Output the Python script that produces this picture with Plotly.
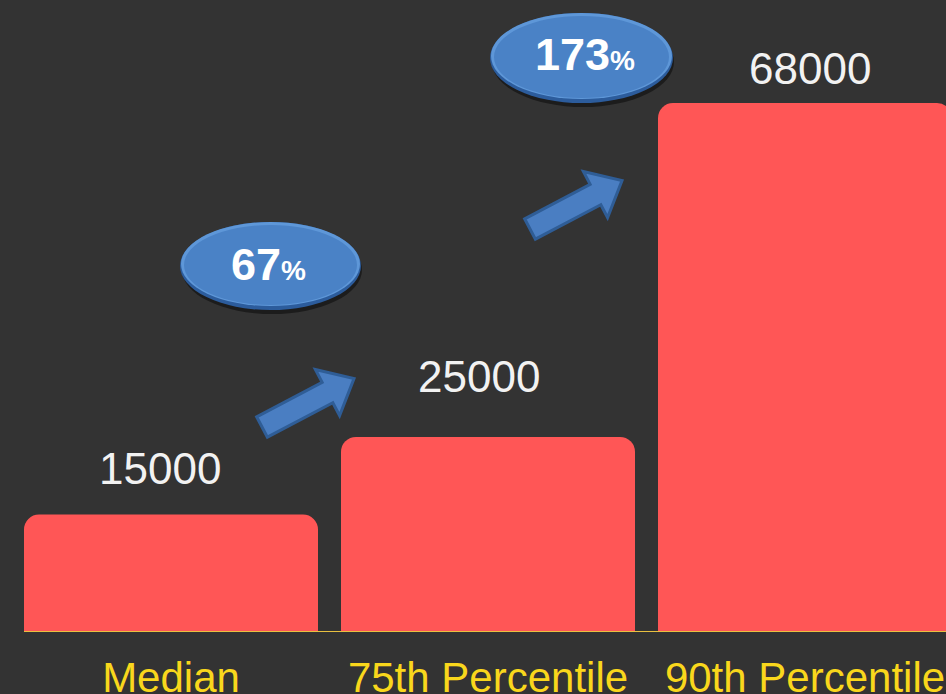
import plotly.graph_objects as go
import math

# ---- data ----
categories = ["Median", "75th Percentile", "90th Percentile"]
values = [15000, 25000, 68000]
value_labels = ["15000", "25000", "68000"]
growth_labels = ["67", "173"]

# ---- style / geometry ----
W, H = 946, 694
ML, MR, MT, MB = 24, 0, 0, 63
PX_PER_CAT = 317.0
CAT0_PX = 171.0
X0 = (ML - CAT0_PX) / PX_PER_CAT
X1 = X0 + (W - ML - MR) / PX_PER_CAT
PLOT_H = H - MT - MB
YMAX = 68000 * PLOT_H / 528.0

BG = "#333333"
BAR = "#FF5656"
YELLOW = "#F9D71C"
FONT = "Liberation Sans, Arial, sans-serif"

label_dx = [-11, -9, 5]
label_gap = [29, 43, 17]


def px2x(px):
    return X0 + (px - ML) / PX_PER_CAT


def py2y(py):
    return (MT + PLOT_H - py) / PLOT_H * YMAX


fig = go.Figure()
fig.add_trace(go.Bar(
    x=list(range(len(categories))), y=values,
    marker=dict(color=BAR, line=dict(width=0)),
    hoverinfo="skip",
))

annotations = []
for i, (v, t) in enumerate(zip(values, value_labels)):
    annotations.append(dict(
        x=i, y=v, xref="x", yref="y", text=t, showarrow=False,
        xshift=label_dx[i], yshift=label_gap[i] - 9, yanchor="bottom",
        font=dict(family=FONT, size=44, color="#F2F2F2"),
    ))

shapes = []

# ---- glossy ellipses with growth labels ----
ellipses = [(180, 222, 361, 310), (490, 13, 673, 103)]
text_shift = [(-2, -2), (3, -4)]
for k, (ax0, ay0, ax1, ay1) in enumerate(ellipses):
    shapes.append(dict(type="circle", xref="x", yref="y", layer="above",
                       x0=px2x(ax0 + 2), x1=px2x(ax1 + 1), y0=py2y(ay0 + 4), y1=py2y(ay1 + 4),
                       fillcolor="rgba(0,0,0,0.45)", line=dict(width=0)))
    shapes.append(dict(type="circle", xref="x", yref="y", layer="above",
                       x0=px2x(ax0), x1=px2x(ax1), y0=py2y(ay0), y1=py2y(ay1),
                       fillcolor="#2C5C9C", line=dict(width=0)))
    shapes.append(dict(type="circle", xref="x", yref="y", layer="above",
                       x0=px2x(ax0 + 1), x1=px2x(ax1 - 1), y0=py2y(ay0), y1=py2y(ay1 - 4),
                       fillcolor="#5E97D8", line=dict(width=0)))
    shapes.append(dict(type="circle", xref="x", yref="y", layer="above",
                       x0=px2x(ax0 + 4), x1=px2x(ax1 - 4), y0=py2y(ay0 + 3), y1=py2y(ay1 - 5),
                       fillcolor="#4A82C6", line=dict(width=0)))
    cx = (ax0 + ax1) / 2 + text_shift[k][0]
    cy = (ay0 + ay1) / 2 + text_shift[k][1]
    annotations.append(dict(
        x=px2x(cx), y=py2y(cy), xref="x", yref="y", showarrow=False,
        text="<b>" + growth_labels[k] + "</b><span style='font-size:28px'><b>%</b></span>",
        font=dict(family=FONT, size=45, color="white"),
        xanchor="center", yanchor="middle",
    ))

# ---- block arrows ----
arrow_tails = [(262, 427), (530, 229)]
L, HW, HH, HL = 104, 11.5, 26, 30
dx, dy = 95.0, -50.0
n = math.hypot(dx, dy)
ux, uy = dx / n, dy / n
vx, vy = -uy, ux
local = [(0, -HW), (L - HL, -HW), (L - HL, -HH), (L, 0), (L - HL, HH), (L - HL, HW), (0, HW)]
for tx, ty in arrow_tails:
    pts = []
    for a, b in local:
        px = tx + a * ux + b * vx
        py = ty + a * uy + b * vy
        pts.append((px2x(px), py2y(py)))
    path = "M " + " L ".join(f"{p[0]:.5f},{p[1]:.2f}" for p in pts) + " Z"
    shapes.append(dict(type="path", xref="x", yref="y", path=path, layer="above",
                       fillcolor="#4A7EC2", line=dict(color="#2F5D96", width=3)))

fig.update_layout(
    width=W, height=H,
    margin=dict(l=ML, r=MR, t=MT, b=MB, pad=0),
    paper_bgcolor=BG, plot_bgcolor=BG,
    bargap=(PX_PER_CAT - 294) / PX_PER_CAT,
    barcornerradius=15,
    showlegend=False,
    annotations=annotations,
    shapes=shapes,
    xaxis=dict(
        range=[X0, X1], tickmode="array", tickvals=list(range(len(categories))),
        ticktext=categories, showgrid=False, zeroline=False,
        showline=True, linecolor="#E8C040", linewidth=1,
        ticks="", tickfont=dict(family=FONT, size=42, color=YELLOW),
        automargin=False, fixedrange=True, ticklabelstandoff=10,
    ),
    yaxis=dict(range=[0, YMAX], visible=False, showgrid=False, zeroline=False,
               automargin=False, fixedrange=True),
)

fig.write_html(
    "out.html",
    config={"displayModeBar": False},
    post_script="document.body.style.margin='0';document.body.style.background='#333333';",
)
